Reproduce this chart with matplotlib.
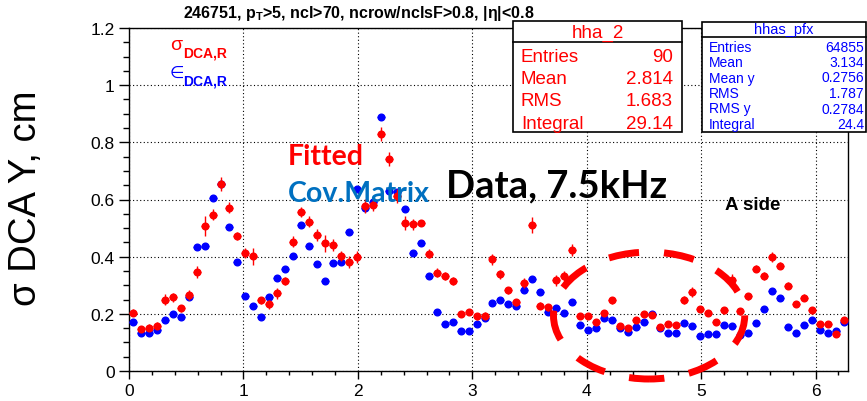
import matplotlib
matplotlib.use("Agg")
import matplotlib.pyplot as plt
from matplotlib.patches import Ellipse, Rectangle
from matplotlib.lines import Line2D
import numpy as np

plt.rcParams['font.family'] = ['Liberation Sans', 'DejaVu Sans']
plt.rcParams['mathtext.fontset'] = 'custom'
plt.rcParams['mathtext.rm'] = 'Liberation Sans'
plt.rcParams['mathtext.bf'] = 'Liberation Sans:bold'

# 90 bins in phi, 0..2pi
n_bins = 90
phi_max = 2 * np.pi

# sigma DCA from fit (red)
sigma_fit = [0.204, 0.147, 0.152, 0.159, 0.250, 0.258, 0.219, 0.267, 0.346, 0.508,
             0.547, 0.653, 0.572, 0.473, 0.414, 0.402, 0.247, 0.233, 0.272, 0.315,
             0.453, 0.557, 0.523, 0.476, 0.447, 0.441, 0.402, 0.381, 0.399, 0.578,
             0.582, 0.829, 0.742, 0.613, 0.517, 0.513, 0.519, 0.411, 0.344, 0.332,
             0.315, 0.201, 0.206, 0.192, 0.194, 0.391, 0.338, 0.283, 0.241, 0.309,
             0.510, 0.229, 0.223, 0.317, 0.332, 0.423, 0.192, 0.192, 0.172, 0.204,
             0.247, 0.157, 0.149, 0.180, 0.200, 0.195, 0.153, 0.165, 0.160, 0.248,
             0.276, 0.218, 0.204, 0.172, 0.212, 0.320, 0.209, 0.262, 0.358, 0.332,
             0.400, 0.369, 0.299, 0.236, 0.256, 0.213, 0.165, 0.165, 0.131, 0.180]
sigma_fit_err = [0.012, 0.010, 0.012, 0.012, 0.018, 0.015, 0.013, 0.018, 0.022, 0.035,
                 0.020, 0.025, 0.018, 0.015, 0.018, 0.030, 0.012, 0.015, 0.020, 0.015,
                 0.018, 0.018, 0.018, 0.020, 0.030, 0.020, 0.018, 0.022, 0.022, 0.025,
                 0.022, 0.025, 0.025, 0.025, 0.025, 0.018, 0.010, 0.015, 0.015, 0.015,
                 0.015, 0.010, 0.010, 0.012, 0.012, 0.020, 0.015, 0.012, 0.012, 0.018,
                 0.028, 0.012, 0.012, 0.018, 0.018, 0.020, 0.010, 0.010, 0.010, 0.010,
                 0.012, 0.010, 0.010, 0.010, 0.010, 0.010, 0.010, 0.010, 0.010, 0.015,
                 0.017, 0.010, 0.010, 0.010, 0.012, 0.020, 0.012, 0.012, 0.012, 0.013,
                 0.018, 0.012, 0.012, 0.010, 0.012, 0.012, 0.010, 0.010, 0.010, 0.010]

# covariance matrix estimate (blue)
sigma_cov = [0.172, 0.133, 0.133, 0.142, 0.180, 0.200, 0.188, 0.258, 0.434, 0.437,
             0.604, 0.653, 0.505, 0.382, 0.262, 0.227, 0.188, 0.258, 0.326, 0.356,
             0.402, 0.510, 0.437, 0.374, 0.315, 0.379, 0.381, 0.487, 0.636, 0.572,
             0.592, 0.888, 0.630, 0.625, 0.568, 0.414, 0.449, 0.332, 0.206, 0.165,
             0.171, 0.139, 0.139, 0.165, 0.185, 0.239, 0.247, 0.233, 0.227, 0.283,
             0.323, 0.276, 0.207, 0.220, 0.204, 0.242, 0.160, 0.142, 0.149, 0.184,
             0.180, 0.149, 0.136, 0.154, 0.172, 0.200, 0.149, 0.133, 0.133, 0.169,
             0.157, 0.122, 0.130, 0.130, 0.160, 0.157, 0.125, 0.133, 0.169, 0.218,
             0.279, 0.256, 0.153, 0.133, 0.160, 0.177, 0.142, 0.133, 0.139, 0.172]
sigma_cov_err = [0.005] * n_bins

stats_fit = [("Entries", "90"), ("Mean", "2.814"), ("RMS", "1.683"), ("Integral", "29.14")]
stats_cov = [("Entries", "64855"), ("Mean", "3.134"), ("Mean y", "0.2756"),
             ("RMS", "1.787"), ("RMS y", "0.2784"), ("Integral", "24.4")]

W, H = 867, 402


# pixel (from top-left) -> figure fraction
def P(x, y):
    return x / W, 1 - y / H


fig = plt.figure(figsize=(W / 100, H / 100), dpi=100)
ax = fig.add_axes([129 / W, 1 - 372 / H, (848 - 129) / W, (372 - 29) / H])

edges = np.linspace(0, phi_max, n_bins + 1)
centers = 0.5 * (edges[1:] + edges[:-1])
half = 0.5 * (edges[1] - edges[0])

ax.errorbar(centers, sigma_cov, yerr=sigma_cov_err, xerr=half, fmt='o', color='#0000ff',
            ms=4.8, elinewidth=1, capsize=0, zorder=3)
ax.errorbar(centers, sigma_fit, yerr=sigma_fit_err, xerr=half, fmt='o', color='#ff0000',
            ms=4.8, elinewidth=1, capsize=0, zorder=4)

ax.set_xlim(0, phi_max)
ax.set_ylim(0, 1.2)
ax.set_xticks(range(7))
ax.set_xticks(np.arange(0, 6.3, 0.2), minor=True)
ax.set_yticks(np.arange(0, 1.21, 0.2))
ax.set_yticklabels(['0', '0.2', '0.4', '0.6', '0.8', '1', '1.2'])
ax.set_yticks(np.arange(0, 1.21, 0.05), minor=True)
ax.tick_params(axis='y', which='major', direction='out', length=7.2, width=1, pad=3, labelsize=12.5)
ax.tick_params(axis='y', which='minor', direction='out', length=4.3, width=1)
ax.tick_params(axis='x', which='major', direction='out', length=5.4, width=1, pad=3.5, labelsize=12.5)
ax.tick_params(axis='x', which='minor', direction='out', length=2.9, width=1)
ax.grid(True, which='major', color='black', linestyle=(0, (1, 2.2)), linewidth=0.8)
for s in ax.spines.values():
    s.set_linewidth(1)

# dashed ellipse drawn over the plot
ax.add_patch(Ellipse((4.545, 0.194), 1.671, 0.444, fill=False, edgecolor='#ff0000', lw=5,
                     linestyle=(2.2, (4.4, 3.6)), clip_on=False, zorder=6))

# title
fig.text(*P(359, 18), r'246751, p$_{\mathbf{T}}$>5, ncl>70, ncrow/nclsF>0.8, |η|<0.8',
         ha='center', va='baseline', fontsize=11.5, fontweight='bold')

# sigma / epsilon labels
fig.text(*P(170, 50), 'σ', color='#ff0000', fontsize=14, va='baseline')
fig.text(*P(183, 57), 'DCA,R', color='#ff0000', fontsize=10, fontweight='bold', va='baseline')
fig.text(*P(170, 78), '∈', color='#0000ff', fontsize=12, va='baseline')
fig.text(*P(183, 85), 'DCA,R', color='#0000ff', fontsize=10, fontweight='bold', va='baseline')

# slide annotations
fig.text(*P(288, 165), 'Fitted', color='#ff0000', fontsize=20.5, fontweight='bold',
         family='Lato', va='baseline', zorder=7)
fig.text(*P(288, 202), 'Cov.Matrix', color='#0070c0', fontsize=20.5, fontweight='bold',
         family='Lato', va='baseline', zorder=7)
fig.text(*P(446, 197), 'Data, 7.5kHz', color='black', fontsize=27.5, fontweight='bold',
         family='Lato', va='baseline', zorder=7)
fig.text(*P(725, 210), 'A side', color='black', fontsize=13.5, fontweight='bold', va='baseline')

fig.text(*P(26, 198), 'σ DCA Y, cm', rotation=90, ha='center', va='center', fontsize=27.5)

# stat boxes
def stat_box(x0, y0, x1, y1, ysep, title, title_y, title_fs, rows, row_y0, row_dy, fs, color,
             lx, rx):
    fx0, fy1 = P(x0, y1)
    fx1, fy0 = P(x1, y0)
    fig.add_artist(Rectangle((fx0, fy1), fx1 - fx0, fy0 - fy1, transform=fig.transFigure,
                             facecolor='white', edgecolor='black', lw=1.2, zorder=8))
    sx0, sy = P(x0, ysep)
    sx1, _ = P(x1, ysep)
    fig.add_artist(Line2D([sx0, sx1], [sy, sy], transform=fig.transFigure, color='black',
                          lw=1.2, zorder=9))
    fig.text(*P((x0 + x1) / 2, title_y), title, color=color, fontsize=title_fs,
             ha='center', va='baseline', zorder=10)
    for k, (name, val) in enumerate(rows):
        yy = row_y0 + k * row_dy
        fig.text(*P(lx, yy), name, color=color, fontsize=fs, va='baseline', zorder=10)
        fig.text(*P(rx, yy), val, color=color, fontsize=fs, ha='right', va='baseline', zorder=10)


stat_box(513, 22, 682, 133, 43, 'hha_2', 38, 13.5, stats_fit, 62, 22.2, 13.5, '#ff0000', 521, 673)
stat_box(702, 23, 866, 133, 37.5, 'hhas_pfx', 34, 10.5, stats_cov, 51.5, 15.5, 10, '#0000ff', 709, 864)

fig.savefig('out.png', dpi=100)
